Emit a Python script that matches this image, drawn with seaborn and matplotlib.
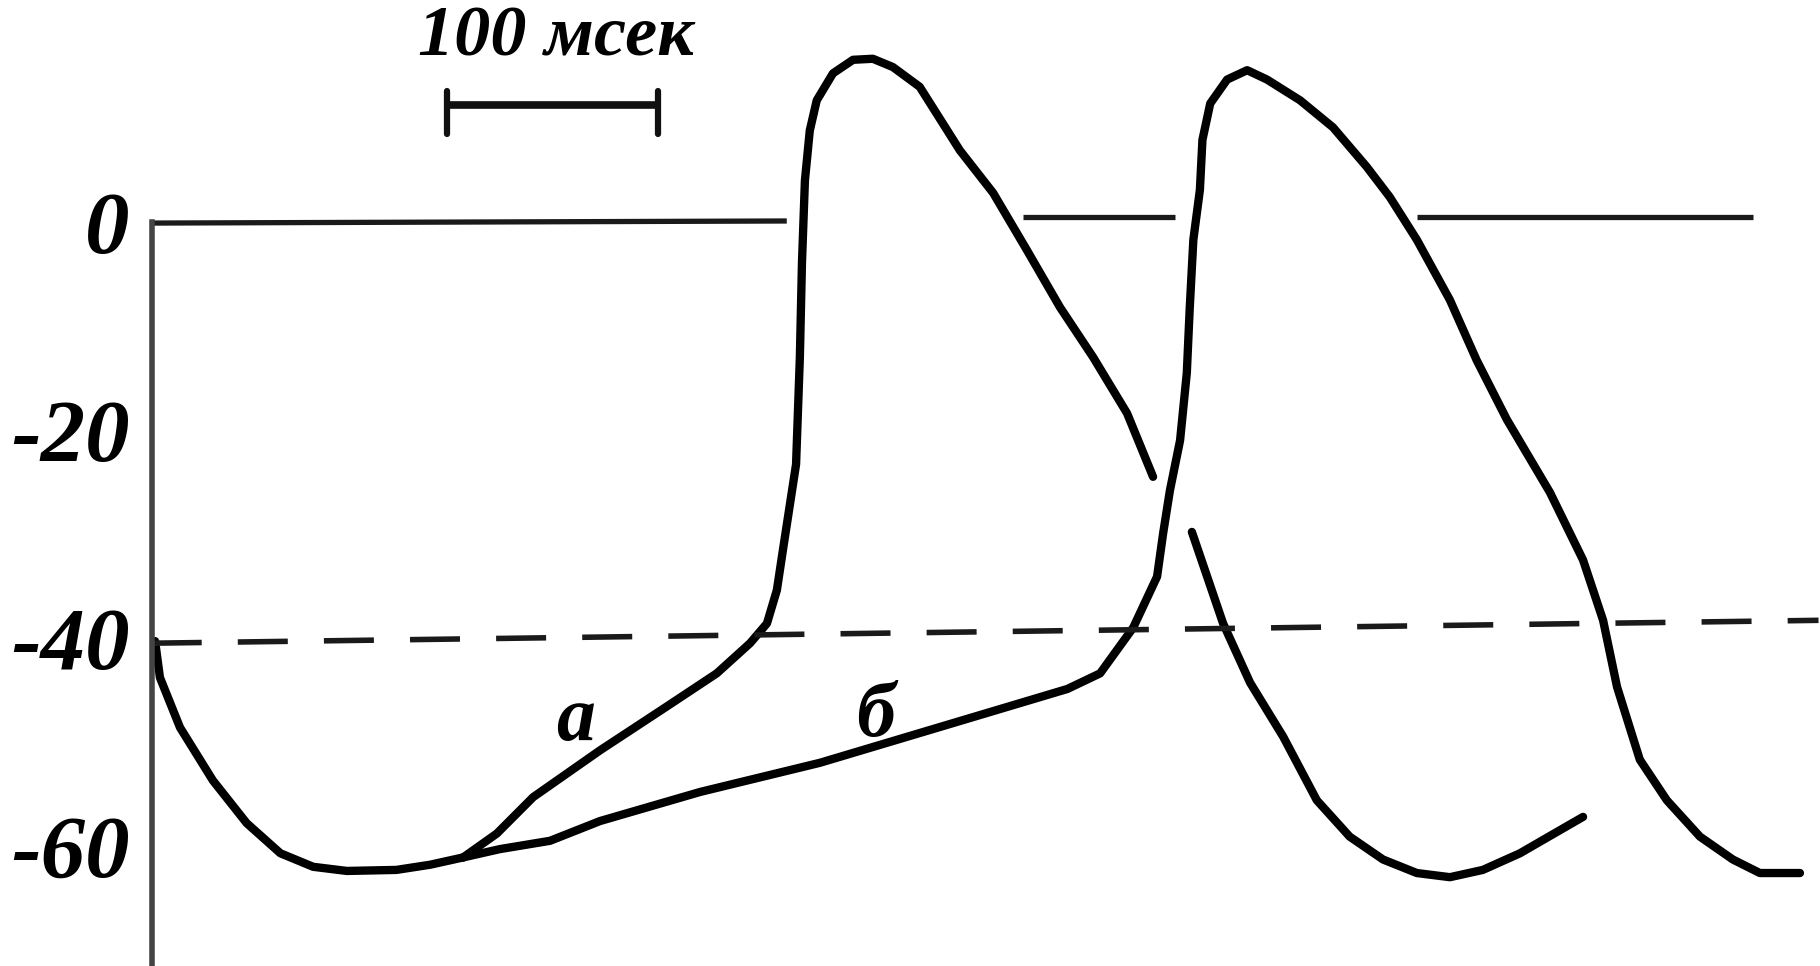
import numpy as np
import matplotlib
matplotlib.use("Agg")
import matplotlib.pyplot as plt
import seaborn as sns

# common descent from the previous spike down to the resting minimum (ms, mV)
common_t = [1.6, 3.9, 13.4, 29, 45, 61, 76.5, 92.5, 116, 132, 147.6]
common_v = [-40.3, -43.8, -48.6, -53.7, -57.8, -60.7, -62, -62.4, -62.3, -61.8, -61.1]

# curve "а": fast diastolic depolarisation, drawn in two pieces
a1_t = [147.6, 163.6, 180.8, 212.5, 244, 267.8, 283.6, 291.6, 296.3, 299.2,
        305.4, 307.2, 308.2, 309.6, 311.9, 315.2, 322.9, 332.4, 341.8, 351.3,
        364, 383, 398.8, 414.8, 430.5, 446.2, 462.3, 474.6]
a1_v = [-61.1, -58.8, -55.3, -50.8, -46.6, -43.4, -40.5, -38.6, -35.4, -31.5,
        -23.3, -13, -3.9, 4, 8.8, 11.7, 14.3, 15.6, 15.7, 14.9,
        13, 6.9, 2.8, -2.7, -8.2, -13, -18.4, -24.5]
a2_t = [493, 507.8, 520.6, 536.3, 552.2, 567.8, 583.6, 599.6, 615.3, 630.9,
        648.5, 663, 678.4]
a2_v = [-29.8, -38.6, -44.3, -49.5, -55.6, -59.1, -61.3, -62.6, -63, -62.3,
        -60.7, -59, -57.2]

# curve "б": slow diastolic depolarisation
b_t = [147.6, 165, 188.8, 212.5, 260, 316.7, 396, 434, 449.5, 465.2,
       476.5, 479.4, 482.6, 487.4, 490.6, 492, 493.7, 496.8, 498, 501.7,
       509.7, 519.2, 528.6, 544.3, 559.9, 575.9, 586.8, 599.6, 615.3, 628,
       642.3, 662.7, 678.4, 687.9, 694.5, 705.3, 718.1, 733.8, 749.4, 762.2,
       781.2]
b_v = [-61.1, -60.3, -59.5, -57.6, -54.8, -52, -47.2, -44.9, -43.4, -39,
       -34.1, -29.9, -25.8, -21, -14.5, -8.2, -1.7, 3.1, 7.9, 11.4,
       13.7, 14.6, 13.7, 11.7, 9.1, 5.3, 2.4, -1.7, -7.5, -13.3,
       -19, -26, -32.5, -38.3, -44.7, -51.7, -55.6, -59.1, -61.3, -62.6,
       -62.6]

# zero level, interrupted where the spikes cross it
zero_segments = [([0, 301], [-0.1, 0.1]), ([413, 485], [0.5, 0.5]), ([599.6, 758.8], [0.5, 0.5])]

# threshold level (dashed)
threshold_t = [0, 790]
threshold_v = [-40.5, -38.3]

# time scale bar
scalebar_t = [140, 240]
scalebar_v = 11.3
scalebar_label = "100 мсек"

y_ticks = [0, -20, -40, -60]
y_ticklabels = ["0", "-20", "-40", "-60"]

sns.set_style("white")
plt.rcParams["font.family"] = ["Liberation Serif", "DejaVu Serif"]

fig = plt.figure(figsize=(18.2, 9.66), dpi=100)
ax = fig.add_axes([0, 0, 1, 1])
ax.set_xlim(-71.9, 790.7)
ax.set_ylim(-71.54, 21.35)

lw = 6
for xs, ys in [(common_t, common_v), (a1_t, a1_v), (a2_t, a2_v), (b_t, b_v)]:
    sns.lineplot(x=xs, y=ys, sort=False, estimator=None, color="black", lw=lw,
                 solid_joinstyle="round", solid_capstyle="round", ax=ax)

for seg_t, seg_v in zero_segments:
    ax.plot(seg_t, seg_v, color="#1a1a1a", lw=3.8, solid_capstyle="butt")

ax.plot(threshold_t, threshold_v, color="#1a1a1a", lw=4, dashes=(9, 6.5))

# scale bar
ax.plot(scalebar_t, [scalebar_v, scalebar_v], color="#111111", lw=5.5, solid_capstyle="butt")
for t in scalebar_t:
    ax.plot([t, t], [scalebar_v + 1.3, scalebar_v - 2.8], color="#111111", lw=4.5)
ax.text(np.mean(scalebar_t) + 1.5, 16.0, scalebar_label, ha="center", va="baseline",
        fontsize=52, fontweight="bold", fontstyle="italic", color="black")

ax.text(201, -49.8, "а", ha="center", va="baseline", fontsize=56,
        fontweight="bold", fontstyle="italic", color="black")
ax.text(343, -49.4, "б", ha="center", va="baseline", fontsize=56,
        fontweight="bold", fontstyle="italic", color="black")

# y axis drawn as a spine through t = 0
for side in ["top", "right", "bottom"]:
    ax.spines[side].set_visible(False)
ax.spines["left"].set_position(("data", 0))
ax.spines["left"].set_bounds(-71.54, 0)
ax.spines["left"].set_color("#444444")
ax.spines["left"].set_linewidth(4)
ax.set_yticks(y_ticks)
ax.set_yticklabels(y_ticklabels, fontsize=64, fontweight="bold", fontstyle="italic",
                   color="black")
ax.tick_params(axis="y", direction="in", length=30, width=4.5, pad=16, color="#1a1a1a")
ax.set_xticks([])
ax.set_xlabel("")
ax.set_ylabel("")
ax.patch.set_alpha(0)

fig.savefig("out.png", dpi=100, facecolor="white")
